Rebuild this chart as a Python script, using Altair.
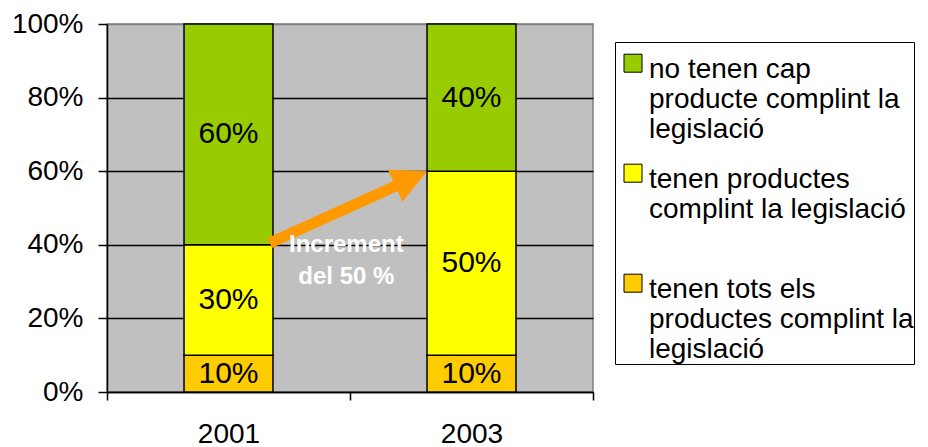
import json
import altair as alt
import pandas as pd

# ---- data ----
years = ["2001", "2003"]
categories = [
    "no tenen cap producte complint la legislació",
    "tenen productes complint la legislació",
    "tenen tots els productes complint la legislació",
]
legend_lines = [
    ["no tenen cap", "producte complint la", "legislació"],
    ["tenen productes", "complint la legislació", ""],
    ["tenen tots els", "productes complint la\u00a0\u00a0\u00a0", "legislació"],
]
colors = ["#99CC00", "#FFFF00", "#FFCC00"]
share_2001 = [0.60, 0.30, 0.10]
share_2003 = [0.40, 0.50, 0.10]
stack_order = [3, 2, 1]  # 1 = bottom of the stack
y_ticks = [0, 0.2, 0.4, 0.6, 0.8, 1.0]

arrow_start = {"year": "2001", "band": 0.67, "value": 0.405}
arrow_shaft_end = {"year": "2003", "band": 0.222, "value": 0.57}
arrow_tip = {"year": "2003", "band": 0.317, "value": 0.60}
note_lines = ["Increment", "del 50 %"]
note_anchor = {"year": "2001", "band": 0.985, "value": 0.40}

FONT = "Liberation Sans"

# ---- tables ----
rows = []
for year, shares in zip(years, [share_2001, share_2003]):
    items = sorted(zip(categories, shares, stack_order), key=lambda t: t[2])
    base = 0.0
    for cat, v, o in items:
        rows.append({"year": year, "category": cat, "value": v, "order": o,
                     "mid": base + v / 2, "label": f"{round(v * 100)}%"})
        base += v
df = pd.DataFrame(rows)

shaft = pd.DataFrame([{"x0": arrow_start["year"], "y0": arrow_start["value"],
                       "x1": arrow_shaft_end["year"], "y1": arrow_shaft_end["value"]}])
head = pd.DataFrame([{"x": arrow_tip["year"], "y": arrow_tip["value"]}])
note = pd.DataFrame([{"x": note_anchor["year"], "y": note_anchor["value"]}])

label_expr = ""
for cat, lines in zip(categories, legend_lines):
    label_expr += f"datum.label == {json.dumps(cat, ensure_ascii=False)} ? {json.dumps(lines, ensure_ascii=False)} : "
label_expr += "datum.label"

x_scale = alt.Scale(domain=years, paddingInner=0, paddingOuter=0)
y_scale = alt.Scale(domain=[0, 1], nice=False)

# square swatch placed beside the first label line
swatch_shape = "M-1,-0.2 L1,-0.2 L1,1.8 L-1,1.8 Z"

bars = alt.Chart(df).mark_bar(
    width=alt.RelativeBandSize(0.366), stroke="black", strokeWidth=1.5
).encode(
    x=alt.X("year:N", scale=x_scale, title=None),
    y=alt.Y("value:Q", stack="zero", scale=y_scale,
            axis=alt.Axis(values=y_ticks, format=".0%", title=None, grid=True,
                          gridColor={"condition": {"test": "datum.value >= 1", "value": "#808080"},
                                     "value": "black"},
                          gridWidth=1.5)),
    fill=alt.Fill("category:N", scale=alt.Scale(domain=categories, range=colors),
                  legend=alt.Legend(
                      orient="none", legendX=508, legendY=18, title=None,
                      labelExpr=label_expr, labelFont=FONT, labelFontSize=28,
                      labelColor="black", labelLimit=600, labelBaseline="top",
                      labelOffset=2, symbolType=swatch_shape, symbolSize=324,
                      symbolStrokeColor="black", symbolStrokeWidth=1,
                      symbolOffset=4,
                      strokeColor="black", fillColor="white", padding=0,
                      rowPadding=8, columns=1,
                  )),
    order=alt.Order("order:Q", sort="ascending"),
)

texts = alt.Chart(df).mark_text(font=FONT, fontSize=30, color="black", baseline="middle").encode(
    x=alt.X("year:N", title=None),
    y=alt.Y("mid:Q", title=None),
    text="label:N",
)

shaft_layer = alt.Chart(shaft).mark_rule(color="#FF9900", strokeWidth=11, strokeCap="butt").encode(
    x=alt.X("x0:N", bandPosition=arrow_start["band"], title=None),
    x2=alt.X2("x1:N", bandPosition=arrow_shaft_end["band"]),
    y=alt.Y("y0:Q", title=None),
    y2="y1:Q",
)

head_layer = alt.Chart(head).mark_point(
    shape="M0,0 L-2,-1 L-2,1 Z", size=1225, filled=True, fill="#FF9900",
    opacity=1, strokeWidth=0, angle=335.5,
).encode(
    x=alt.X("x:N", bandPosition=arrow_tip["band"], title=None),
    y=alt.Y("y:Q", title=None),
)

note_layer = alt.Chart(note).mark_text(
    font=FONT, fontSize=24, fontWeight="bold", color="white", lineHeight=32,
    baseline="middle", align="center",
).encode(
    x=alt.X("x:N", bandPosition=note_anchor["band"], title=None),
    y=alt.Y("y:Q", title=None),
    text=alt.value(note_lines),
)

chart = alt.layer(bars, texts, shaft_layer, head_layer, note_layer).properties(
    width=486, height=368,
    autosize=alt.AutoSizeParams(type="none"),
    padding={"left": 99, "top": 16, "right": 327, "bottom": 55},
).configure_view(
    stroke="#808080", fill="#C0C0C0", strokeWidth=1.5,
).configure_axis(
    labelFont=FONT, labelFontSize=28, labelColor="black", tickColor="black",
    domainColor="black", domainWidth=1.5, tickWidth=1.5,
).configure_axisX(
    tickBand="extent", labelAngle=0, tickSize=8, labelPadding=20, grid=False,
).configure_axisY(
    tickSize=9, labelPadding=15,
)

chart.save("out.html", embed_options={"renderer": "svg", "actions": False})
